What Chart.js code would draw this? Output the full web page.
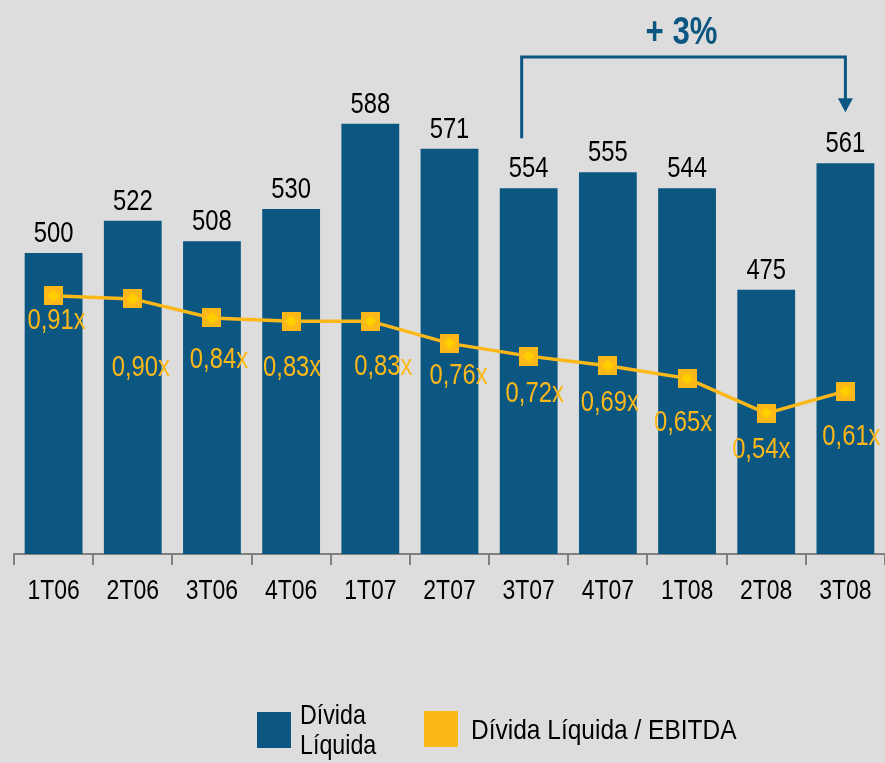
<!DOCTYPE html>
<html>
<head>
<meta charset="utf-8">
<script src="https://cdn.jsdelivr.net/npm/chart.js@4.4.0/dist/chart.umd.min.js"></script>
<style>
  body { margin: 0; background: #dddddd; }
  #wrap { position: relative; width: 885px; height: 763px; }
  .sw { position: absolute; width: 34px; height: 36px; }
  .lt { position: absolute; font-family: "Liberation Sans", Arial, sans-serif; font-size: 28px; line-height: 30px; color: #000;
        transform: scaleX(0.83); transform-origin: 0 0; white-space: nowrap; }
</style>
</head>
<body>
<div id="wrap">
  <canvas id="debtChart" width="885" height="763"></canvas>
  <div class="sw" style="left:257px;top:712px;background:#0b5782"></div>
  <div class="lt" style="left:300px;top:700px">Dívida<br>Líquida</div>
  <div class="sw" style="left:424px;top:711px;background:#fbb818"></div>
  <div class="lt" style="left:471px;top:715px;transform:scaleX(0.875)">Dívida Líquida / EBITDA</div>
</div>
<script>
// Quarters and values
const quarters = ['1T06', '2T06', '3T06', '4T06', '1T07', '2T07', '3T07', '4T07', '1T08', '2T08', '3T08'];
const netDebt = [500, 522, 508, 530, 588, 571, 544, 555, 544, 475, 561];
// printed labels (3T07 is printed as 554 on the original)
const netDebtLabels = ['500', '522', '508', '530', '588', '571', '554', '555', '544', '475', '561'];
const debtToEbitda = [0.91, 0.90, 0.84, 0.83, 0.83, 0.76, 0.72, 0.69, 0.65, 0.54, 0.61];

const BLUE = '#0b5782';
const ORANGE = '#fbb818';
const FONT = '"Liberation Sans", Arial, sans-serif';
const NARROW = 0.82; // no Arial Narrow here, squeeze regular text instead

// label nudges for the ratio labels (dx, dy from the point)
const ratioLabelShift = [[3, 25], [8, 69], [7, 42], [1, 47], [13, 46], [9, 33], [6, 38], [2, 37], [-4, 45], [-5, 37], [6, 46]];

// square marker with a small diamond in the middle
const marker = document.createElement('canvas');
marker.width = 19; marker.height = 19;
(function () {
  const m = marker.getContext('2d');
  m.fillStyle = ORANGE;
  m.fillRect(0, 0, 19, 19);
  m.fillStyle = '#ffcf00';
  m.beginPath();
  m.moveTo(9.5, 3.5); m.lineTo(15.5, 9.5); m.lineTo(9.5, 15.5); m.lineTo(3.5, 9.5);
  m.closePath();
  m.fill();
})();

function narrowText(ctx, text, x, y) {
  ctx.save();
  ctx.translate(x, y);
  ctx.scale(NARROW, 1);
  ctx.fillText(text, 0, 0);
  ctx.restore();
}

const labelsPlugin = {
  id: 'labels',
  afterDraw(chart) {
    const ctx = chart.ctx;
    const xs = chart.scales.x;
    ctx.save();
    ctx.textAlign = 'center';

    // category labels
    ctx.font = '28px ' + FONT;
    ctx.fillStyle = '#000';
    ctx.textBaseline = 'middle';
    quarters.forEach((q, i) => narrowText(ctx, q, xs.getPixelForTick(i), chart.chartArea.bottom + 37));

    // bar values
    ctx.font = '29px ' + FONT;
    ctx.textBaseline = 'alphabetic';
    chart.getDatasetMeta(1).data.forEach((bar, i) => {
      narrowText(ctx, netDebtLabels[i], bar.x, bar.y - 11);
    });

    // ratio labels
    ctx.fillStyle = ORANGE;
    ctx.textBaseline = 'middle';
    chart.getDatasetMeta(0).data.forEach((pt, i) => {
      const s = ratioLabelShift[i];
      narrowText(ctx, debtToEbitda[i].toFixed(2).replace('.', ',') + 'x', pt.x + s[0], pt.y + s[1]);
    });

    // +3% bracket from 3T07 to 3T08
    const bars = chart.getDatasetMeta(1).data;
    const x1 = bars[6].x - 7, x2 = bars[10].x;
    const yTop = chart.chartArea.top + 57;
    ctx.strokeStyle = BLUE;
    ctx.fillStyle = BLUE;
    ctx.lineWidth = 3;
    ctx.beginPath();
    ctx.moveTo(x1, bars[6].y - 50);
    ctx.lineTo(x1, yTop);
    ctx.lineTo(x2, yTop);
    ctx.lineTo(x2, bars[10].y - 64);
    ctx.stroke();
    ctx.beginPath();
    ctx.moveTo(x2 - 7.5, bars[10].y - 65);
    ctx.lineTo(x2 + 7.5, bars[10].y - 65);
    ctx.lineTo(x2, bars[10].y - 51);
    ctx.closePath();
    ctx.fill();

    ctx.font = 'bold 38px ' + FONT;
    ctx.textBaseline = 'middle';
    narrowText(ctx, '+ 3%', (x1 + x2) / 2 - 2, chart.chartArea.top + 34);
    ctx.restore();
  }
};

new Chart(document.getElementById('debtChart'), {
  data: {
    labels: quarters,
    datasets: [{
      type: 'line',
      label: 'Dívida Líquida / EBITDA',
      data: debtToEbitda,
      yAxisID: 'yr',
      borderColor: ORANGE,
      borderWidth: 3.5,
      tension: 0,
      pointStyle: marker,
      order: 0
    }, {
      type: 'bar',
      label: 'Dívida Líquida',
      data: netDebt,
      yAxisID: 'y',
      backgroundColor: BLUE,
      categoryPercentage: 1,
      barPercentage: 0.73,
      order: 1
    }]
  },
  options: {
    responsive: false,
    animation: false,
    layout: { autoPadding: false, padding: { left: 14, right: 0, top: 0, bottom: 149 } },
    plugins: {
      legend: { display: false },
      tooltip: { enabled: false }
    },
    scales: {
      x: {
        afterFit(scale) { scale.height = 60; },
        grid: {
          offset: true,
          drawOnChartArea: false,
          tickLength: 11,
          color: '#808080',
          lineWidth: 2
        },
        border: { color: '#808080', width: 2 },
        ticks: { display: false }
      },
      y: { display: false, min: 295.1, max: 672.2 },
      yr: { display: false, min: 0.0977, max: 1.84 }
    }
  },
  plugins: [labelsPlugin]
});
</script>
</body>
</html>
